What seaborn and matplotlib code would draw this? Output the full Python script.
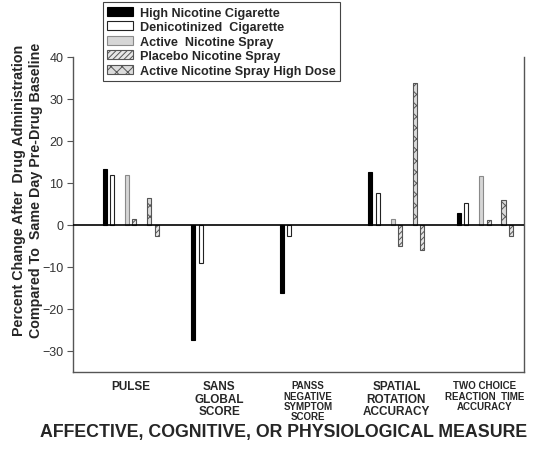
import numpy as np
import pandas as pd
import seaborn as sns
import matplotlib.pyplot as plt
from matplotlib.patches import Patch

# data (percent change from baseline)
measures = ["PULSE", "SANS\nGLOBAL\nSCORE", "PANSS\nNEGATIVE\nSYMPTOM\nSCORE",
            "SPATIAL\nROTATION\nACCURACY", "TWO CHOICE\nREACTION  TIME\nACCURACY"]
label_sizes = [8.5, 8.5, 7, 8.5, 7]

high_nicotine_cig = [13.3, -27.4, -16.2, 12.6, 2.8]
denicotinized_cig = [11.9, -9.0, -2.6, 7.6, 5.2]
active_spray = [11.9, np.nan, np.nan, 1.4, 11.7]
placebo_spray = [1.4, np.nan, np.nan, -5.0, 1.2]
active_spray_hd = [6.4, np.nan, np.nan, 33.8, 6.0]
placebo_spray_hd = [-2.6, np.nan, np.nan, -5.9, -2.6]

series_names = ["High Nicotine Cigarette", "Denicotinized  Cigarette", "Active  Nicotine Spray",
                "Placebo Nicotine Spray", "Active Nicotine Spray High Dose",
                "Placebo Nicotine Spray High Dose"]
series_values = [high_nicotine_cig, denicotinized_cig, active_spray,
                 placebo_spray, active_spray_hd, placebo_spray_hd]

# face, edge, hatch
styles = {
    series_names[0]: ("black", "black", None),
    series_names[1]: ("white", "#222222", None),
    series_names[2]: ("#d6d6d6", "#8a8a8a", None),
    series_names[3]: ("#e6e6e6", "#555555", "//////"),
    series_names[4]: ("#dcdcdc", "#555555", "xxx"),
    series_names[5]: ("#e6e6e6", "#555555", "//////"),
}

# empty slots so the bars come in pairs
hue_order = [series_names[0], series_names[1], "gap1", series_names[2],
             series_names[3], "gap2", series_names[4], series_names[5]]
palette = {h: styles[h][0] if h in styles else "white" for h in hue_order}

sns.set_theme(style="ticks")
plt.rcParams["font.family"] = ["Liberation Sans", "DejaVu Sans"]
plt.rcParams["hatch.linewidth"] = 0.7
plt.rcParams["hatch.color"] = "#444444"

fig = plt.figure(figsize=(5.33, 4.52), dpi=100)
ax = fig.add_axes([0.137, 0.175, 0.846, 0.697])

for name, vals in zip(series_names, series_values):
    sub = pd.DataFrame({"measure": measures, "change": vals, "series": name}).dropna()
    n0 = len(ax.patches)
    sns.barplot(data=sub, x="measure", y="change", hue="series", hue_order=hue_order,
                order=measures, palette=palette, width=0.67, gap=0.45, saturation=1,
                dodge=True, errorbar=None, legend=False, ax=ax)
    face, edge, hatch = styles[name]
    for p in list(ax.patches)[n0:]:
        p.set_facecolor(face)
        p.set_edgecolor(edge)
        p.set_linewidth(0.8)
        if hatch:
            p.set_hatch(hatch)

ax.axhline(0, color="black", lw=1.2, zorder=3)
ax.set_xlim(-0.65, 4.44)
ax.set_ylim(-35, 40)
ax.set_yticks(range(-30, 41, 10))

ax.spines["top"].set_visible(False)
for s in ["left", "right", "bottom"]:
    ax.spines[s].set_color("#555555")
    ax.spines[s].set_linewidth(1.0)

ax.tick_params(axis="y", direction="out", length=4, width=0.8, color="#555555",
               labelsize=9, labelcolor="#333333", pad=3)
ax.tick_params(axis="x", length=0, pad=6)
ax.set_xticks(range(len(measures)))
ax.set_xticklabels(measures, fontweight="bold", linespacing=1.05)
for lab, fs in zip(ax.get_xticklabels(), label_sizes):
    lab.set_fontsize(fs)

ax.set_ylabel("Percent Change After  Drug Administration\nCompared To  Same Day Pre-Drug Baseline",
              fontsize=10.3, fontweight="bold", linespacing=1.3)
ax.yaxis.set_label_coords(-0.067, 0.58)
ax.set_xlabel("AFFECTIVE, COGNITIVE, OR PHYSIOLOGICAL MEASURE", fontsize=12.8, fontweight="bold")
ax.xaxis.set_label_coords(0.468, -0.162)

handles = [Patch(facecolor=styles[n][0], edgecolor=styles[n][1], hatch=styles[n][2], lw=0.8)
           for n in series_names[:5]]
leg = fig.legend(handles, series_names[:5], loc="upper left", bbox_to_anchor=(103 / 533, 0.993),
                 prop={"weight": "bold", "size": 9.1}, frameon=True, fancybox=False,
                 edgecolor="#444444", framealpha=1, handlelength=2.0, handleheight=0.7,
                 handletextpad=0.6, labelspacing=0.2, borderpad=0.35, borderaxespad=0)
leg.get_frame().set_linewidth(0.8)

fig.savefig("out.png", dpi=100)
